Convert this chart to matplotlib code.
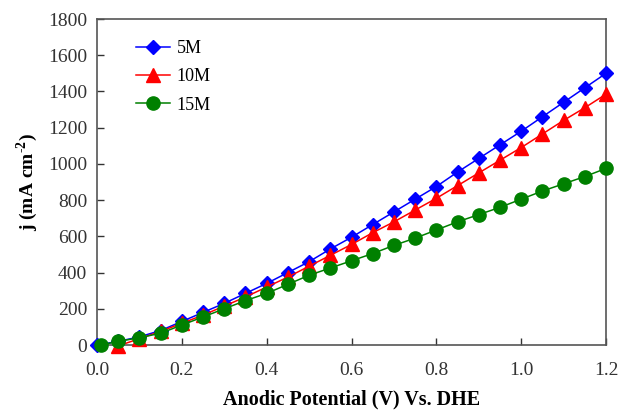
import matplotlib
matplotlib.use("Agg")
import matplotlib.pyplot as plt

plt.rcParams['font.family'] = ['Liberation Serif', 'DejaVu Serif']
plt.rcParams['mathtext.fontset'] = 'custom'
plt.rcParams['mathtext.rm'] = 'Liberation Serif:bold'
plt.rcParams['mathtext.bf'] = 'Liberation Serif:bold'

x_5M = [0.0, 0.05, 0.10, 0.15, 0.20, 0.25, 0.30, 0.35, 0.40, 0.45, 0.50, 0.55, 0.60,
        0.65, 0.70, 0.75, 0.80, 0.85, 0.90, 0.95, 1.00, 1.05, 1.10, 1.15, 1.20]
j_5M = [0, 20, 45, 80, 130, 180, 230, 285, 340, 400, 460, 530, 595,
        665, 735, 805, 875, 955, 1030, 1105, 1180, 1260, 1340, 1420, 1500]

x_10M = [0.05, 0.10, 0.15, 0.20, 0.25, 0.30, 0.35, 0.40, 0.45, 0.50, 0.55, 0.60,
         0.65, 0.70, 0.75, 0.80, 0.85, 0.90, 0.95, 1.00, 1.05, 1.10, 1.15, 1.20]
j_10M = [-5, 35, 75, 120, 165, 215, 265, 320, 375, 435, 495, 555,
         620, 680, 745, 810, 880, 950, 1020, 1090, 1165, 1240, 1310, 1385]

x_15M = [0.01, 0.05, 0.10, 0.15, 0.20, 0.25, 0.30, 0.35, 0.40, 0.45, 0.50, 0.55, 0.60,
         0.65, 0.70, 0.75, 0.80, 0.85, 0.90, 0.95, 1.00, 1.05, 1.10, 1.15, 1.20]
j_15M = [0, 20, 40, 65, 110, 155, 200, 245, 285, 335, 385, 425, 465,
         505, 550, 590, 635, 680, 720, 760, 805, 850, 890, 930, 975]

labels = ['5M', '10M', '15M']
xticks = [0.0, 0.2, 0.4, 0.6, 0.8, 1.0, 1.2]
yticks = [0, 200, 400, 600, 800, 1000, 1200, 1400, 1600, 1800]

fig = plt.figure(figsize=(6.18, 4.12), dpi=100)
ax = fig.add_axes([97/618, 1-345/412, (606-97)/618, (345-19)/412])

ax.plot(x_5M, j_5M, color='#0000FF', marker='D', markersize=7.5, lw=1.1, label=labels[0], clip_on=False, zorder=3)
ax.plot(x_10M, j_10M, color='#FF0000', marker='^', markersize=9.5, lw=1.1, label=labels[1], clip_on=False, zorder=3)
ax.plot(x_15M, j_15M, color='#008000', marker='o', markersize=9.5, lw=1.1, label=labels[2], clip_on=False, zorder=3)

ax.set_xlim(0, 1.2)
ax.set_ylim(0, 1800)
ax.set_xticks(xticks)
ax.set_xticklabels([f'{t:.1f}' for t in xticks])
ax.set_yticks(yticks)
ax.tick_params(direction='in', length=5, width=1, labelsize=14, colors='#333333')
ax.tick_params(axis='x', pad=12)
ax.tick_params(axis='y', pad=7)
for s in ax.spines.values():
    s.set_color('#555555')
    s.set_linewidth(1.2)

ax.set_xlabel('Anodic Potential (V) Vs. DHE', fontsize=14.5, fontweight='bold', labelpad=8)
ax.set_ylabel(r'j (mA cm$^{\text{-2}}$)', fontsize=14, fontweight='bold', labelpad=6)

leg = ax.legend(loc='upper left', bbox_to_anchor=(0.045, 0.985), frameon=False, fontsize=13,
                handlelength=1.9, labelspacing=0.62, handletextpad=0.35)

fig.savefig('out.png', dpi=100)
